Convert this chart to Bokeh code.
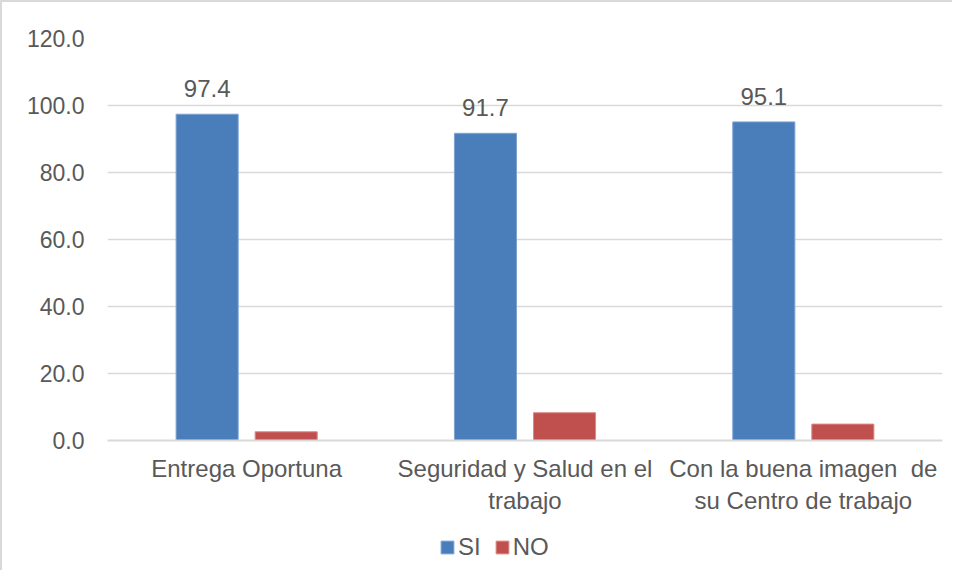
from bokeh.plotting import figure
from bokeh.layouts import column
from bokeh.models import (ColumnDataSource, LabelSet, Legend, LegendItem, FixedTicker,
                          Range1d, NumeralTickFormatter)
from bokeh.core.properties import value
from bokeh.embed import file_html
from bokeh.resources import INLINE

categories = ["Entrega Oportuna", "Seguridad y Salud en el\ntrabajo",
              "Con la buena imagen\u00a0 de\nsu Centro de trabajo"]
si_values = [97.4, 91.7, 95.1]
no_values = [2.6, 8.3, 4.9]
series_names = ["SI", "NO"]
y_ticks = [0, 20, 40, 60, 80, 100, 120]

BLUE = "#4a7ebb"
RED = "#c0504d"
TXT = "#595959"
FONT = "Liberation Sans"

idx = list(range(len(categories)))
offset = 0.142
bw = 0.223
src = ColumnDataSource(dict(
    x_si=[i - offset for i in idx],
    x_no=[i + offset for i in idx],
    si=si_values,
    no=no_values,
    si_lbl=[f"{v:.1f}" for v in si_values],
))

p = figure(width=950, height=528, output_backend="svg", toolbar_location=None,
           x_range=Range1d(-0.5, len(categories) - 0.5), y_range=Range1d(0, 120),
           min_border_left=105, min_border_right=10, min_border_top=36, min_border_bottom=90)
p.outline_line_color = None

r_si = p.vbar(x="x_si", top="si", width=bw, source=src, fill_color=BLUE, line_color="#7fa3d1", line_width=1)
r_no = p.vbar(x="x_no", top="no", width=bw, source=src, fill_color=RED, line_color="#dc8a88", line_width=1)

labels = LabelSet(x="x_si", y="si", text="si_lbl", source=src, text_align="center",
                  text_baseline="alphabetic", y_offset=17, text_font=value(FONT),
                  text_font_size=value("24px"), text_color=value(TXT))
p.add_layout(labels)

p.xgrid.grid_line_color = None
p.ygrid.grid_line_color = "#d9d9d9"
p.ygrid.grid_line_width = 1.5
p.yaxis.ticker = FixedTicker(ticks=y_ticks)
p.yaxis.formatter = NumeralTickFormatter(format="0.0")
p.yaxis.axis_line_color = None
p.yaxis.major_tick_line_color = None
p.yaxis.minor_tick_line_color = None
p.yaxis.major_label_standoff = 17
p.yaxis.major_label_text_font_size = "23px"

p.xaxis.ticker = FixedTicker(ticks=idx)
p.xaxis.major_label_overrides = {i: c for i, c in zip(idx, categories)}
p.xaxis.axis_line_color = "#d9d9d9"
p.xaxis.axis_line_width = 2
p.xaxis.major_tick_line_color = None
p.xaxis.minor_tick_line_color = None
p.xaxis.major_label_standoff = 8
p.xaxis.major_label_text_font_size = "24px"

for ax in (p.xaxis, p.yaxis):
    ax.major_label_text_font = FONT
    ax.major_label_text_color = TXT

# legend strip below the chart (swatch renderers sit outside the visible range)
lg = figure(width=950, height=40, output_backend="svg", toolbar_location=None,
            x_range=Range1d(0, 1), y_range=Range1d(0, 1),
            x_axis_location=None, y_axis_location=None,
            min_border_left=0, min_border_right=0, min_border_top=0, min_border_bottom=0)
lg.outline_line_color = None
lg.grid.visible = False
lg_si = lg.vbar(x=[-10], top=[0], width=0.1, fill_color=BLUE, line_color="#7fa3d1")
lg_no = lg.vbar(x=[-10], top=[0], width=0.1, fill_color=RED, line_color="#dc8a88")
legend = Legend(items=[LegendItem(label=series_names[0], renderers=[lg_si]),
                       LegendItem(label=series_names[1], renderers=[lg_no])],
                orientation="horizontal", location=(332, 9),
                glyph_width=16, glyph_height=16, label_standoff=3, spacing=13,
                padding=0, margin=0, border_line_color=None, background_fill_alpha=0,
                label_text_font=FONT, label_text_font_size="24px", label_text_color=TXT)
lg.add_layout(legend, "center")

layout = column(p, lg, spacing=0,
                styles={"border-left": "2px solid #d9d9d9", "border-top": "2px solid #d9d9d9"})

open("out.html", "w").write(file_html(layout, INLINE))
